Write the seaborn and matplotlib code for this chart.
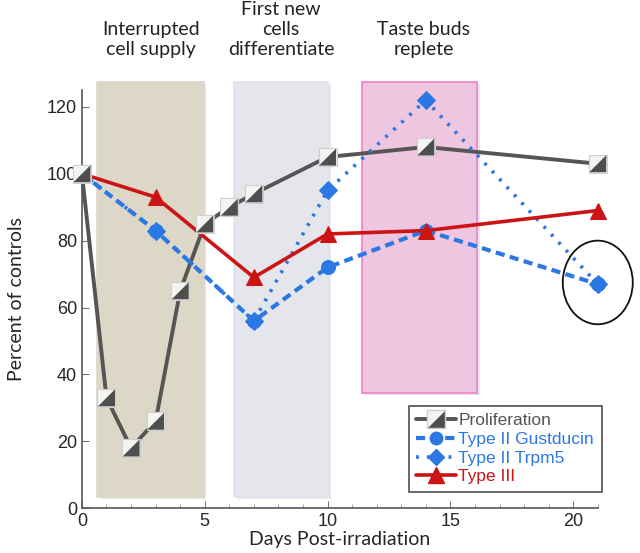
import matplotlib
matplotlib.use("Agg")
import matplotlib.pyplot as plt
import seaborn as sns
from matplotlib.patches import Rectangle, Ellipse
from matplotlib.path import Path
from matplotlib.lines import Line2D

# data
prolif_days = [0, 1, 2, 3, 4, 5, 6, 7, 10, 14, 21]
prolif_vals = [100, 33, 18, 26, 65, 85, 90, 94, 105, 108, 103]
gust_days = [0, 3, 7, 10, 14, 21]
gust_vals = [100, 83, 56, 72, 83, 67]
trpm5_days = [0, 3, 7, 10, 14, 21]
trpm5_vals = [100, 83, 56, 95, 122, 67]
type3_days = [0, 3, 7, 10, 14, 21]
type3_vals = [100, 93, 69, 82, 83, 89]

phases = ["Interrupted\ncell supply", "First new\ncells\ndifferentiate", "Taste buds\nreplete"]
phase_x = [2.8, 8.1, 13.9]
phase_spans = [(0.6, 4.95, 3.5, 127.5), (6.2, 10.0, 3.5, 127.5), (11.4, 16.1, 34.5, 127.5)]
phase_fill = ["#dcd7c7", "#e4e6ec", "#efc6df"]
phase_edge = ["#dcd7c7", "#dfe3ec", "#f07fd0"]

GREY = "#555555"
BLUE = "#2b78e4"
RED = "#cc1414"

sns.set_style("ticks")
plt.rcParams["font.family"] = ["Liberation Sans", "DejaVu Sans"]

fig = plt.figure(figsize=(6.4, 5.53), dpi=100)
ax = fig.add_axes([0.128, 0.081, 0.806, 0.756])

# phase boxes with a faint shadow
for (x0, x1, y0, y1), fc, ec in zip(phase_spans, phase_fill, phase_edge):
    ax.add_patch(Rectangle((x0 + 0.12, y0 - 0.8), x1 - x0, y1 - y0, fc="#d8d8d8",
                           ec="none", alpha=0.6, zorder=0, clip_on=False))
    ax.add_patch(Rectangle((x0, y0), x1 - x0, y1 - y0, fc=fc, ec=ec, lw=1.2,
                           zorder=1, clip_on=False))

for label, x in zip(phases, phase_x):
    ax.text(x, 134.5, label, ha="center", va="bottom", fontsize=14,
            family=["Lato", "DejaVu Sans"], color="#222222", linespacing=1.22)

# lines
sns.lineplot(x=prolif_days, y=prolif_vals, ax=ax, color=GREY, lw=2.8, zorder=3,
             clip_on=False)
sns.lineplot(x=gust_days, y=gust_vals, ax=ax, color=BLUE, lw=3,
             linestyle=(0, (2.2, 1.3)), marker="o", markersize=10,
             markeredgecolor=BLUE, zorder=4, clip_on=False)
sns.lineplot(x=trpm5_days, y=trpm5_vals, ax=ax, color=BLUE, lw=2.6,
             linestyle=(0, (0.8, 2.2)), marker="D", markersize=9,
             markeredgecolor=BLUE, zorder=4, clip_on=False)
sns.lineplot(x=type3_days, y=type3_vals, ax=ax, color=RED, lw=2.6,
             marker="^", markersize=12, markeredgecolor=RED, zorder=5,
             clip_on=False)

# proliferation markers: white square with dark lower-right triangle
tri = Path([(1, -1), (1, 1), (-1, -1), (1, -1)],
           [Path.MOVETO, Path.LINETO, Path.LINETO, Path.CLOSEPOLY])
ax.scatter(prolif_days, prolif_vals, marker="s", s=170, c="#f4f4f2",
           edgecolors="#cfcfcf", linewidths=0.8, zorder=6, clip_on=False)
ax.scatter(prolif_days, prolif_vals, marker=tri, s=150, c="#4e4e4e",
           edgecolors="none", zorder=7, clip_on=False)

# circle around the last point
ax.add_patch(Ellipse((21.0, 67.5), 2.85, 25, fill=False, ec="#111111", lw=1.3,
                     zorder=8, clip_on=False))

ax.set_xlim(0, 21)
ax.set_ylim(0, 125)
ax.set_xticks([0, 5, 10, 15, 20])
ax.set_xticks(range(0, 22), minor=True)
ax.set_yticks([0, 20, 40, 60, 80, 100, 120])
ax.tick_params(axis="both", direction="in", labelsize=13, length=5, color="#777777")
ax.tick_params(axis="x", which="minor", direction="in", length=3, color="#999999")
for s in ["top", "right"]:
    ax.spines[s].set_visible(False)
for s in ["left", "bottom"]:
    ax.spines[s].set_color("#555555")
    ax.spines[s].set_linewidth(1.2)

ax.set_xlabel("Days Post-irradiation", fontsize=14, family=["Lato", "DejaVu Sans"],
              labelpad=1)
ax.set_ylabel("Percent of controls", fontsize=14, family=["Lato", "DejaVu Sans"],
              labelpad=16)

handles = [
    (Line2D([], [], color=GREY, lw=2.8),
     Line2D([], [], marker="s", ms=13, mfc="#f4f4f2", mec="#cfcfcf", ls="none"),
     Line2D([], [], marker=tri, ms=12, mfc="#4e4e4e", mec="none", ls="none")),
    Line2D([], [], color=BLUE, lw=3, ls=(0, (2.2, 1.3)), marker="o", ms=9),
    Line2D([], [], color=BLUE, lw=2.6, ls=(0, (0.8, 2.2)), marker="D", ms=8),
    Line2D([], [], color=RED, lw=2.6, marker="^", ms=11),
]
labels = ["Proliferation", "Type II Gustducin", "Type II Trpm5", "Type III"]
leg = ax.legend(handles, labels, loc="lower right", bbox_to_anchor=(0.94, 0.11),
                bbox_transform=fig.transFigure, borderaxespad=0, fontsize=12.5,
                frameon=True, fancybox=False, edgecolor="#222222", handlelength=2.3,
                handletextpad=0.1, labelspacing=0.2, borderpad=0.45)
leg.get_frame().set_linewidth(1.2)
for t, c in zip(leg.get_texts(), ["#555555", BLUE, BLUE, RED]):
    t.set_color(c)

fig.savefig("out.png", dpi=100)
